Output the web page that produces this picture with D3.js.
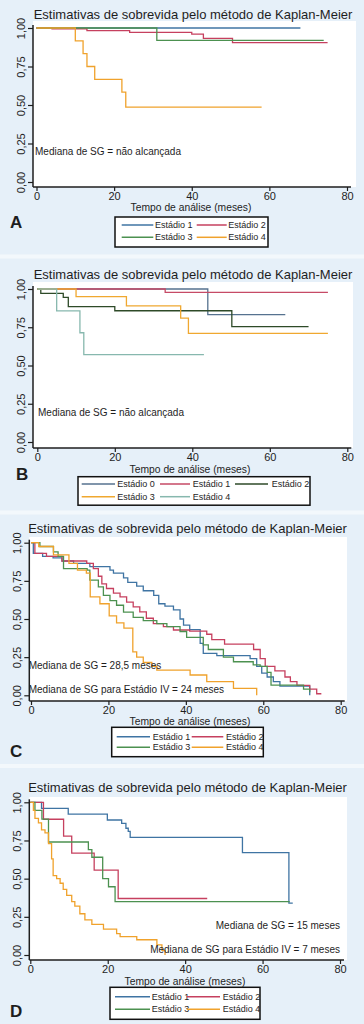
<!DOCTYPE html>
<html>
<head>
<meta charset="utf-8">
<script src="https://cdn.jsdelivr.net/npm/d3@7"></script>
<style>
  body { margin: 0; background: #e6f0f9; }
  svg { display: block; }
  text { font-family: "Liberation Sans", Arial, sans-serif; fill: #1e1e1e; }
</style>
</head>
<body>
<div id="chart"></div>
<script>
// shared axis values
var xTicks = [0, 20, 40, 60, 80];
var yTicks = [0, 0.25, 0.5, 0.75, 1];
var titleText = "Estimativas de sobrevida pelo método de Kaplan-Meier";
var xTitleText = "Tempo de análise (meses)";

// panel A
var namesA = ["Estádio 1", "Estádio 2", "Estádio 3", "Estádio 4"];
var a1 = [[0, 1], [68, 1]];
var a2 = [[0, 1], [4, 0.995], [13, 0.983], [24, 0.972], [40, 0.96], [43, 0.933], [50.5, 0.905], [75, 0.905]];
var a3 = [[0, 1], [31, 0.92], [74, 0.92]];
var a4 = [[0, 1], [10, 0.917], [12, 0.833], [13, 0.75], [15, 0.667], [22, 0.583], [23, 0.486], [58, 0.486]];
var notesA = ["Mediana de SG = não alcançada"];

// panel B
var namesB = ["Estádio 0", "Estádio 1", "Estádio 2", "Estádio 3", "Estádio 4"];
var b0 = [[0, 1], [44, 0.833], [64, 0.833]];
var b1 = [[0, 1], [33, 0.978], [75, 0.978]];
var b2 = [[0, 1], [0.9, 0.972], [6.7, 0.945], [8, 0.885], [20, 0.858], [50.2, 0.754], [70, 0.754]];
var b3 = [[0, 1], [10, 0.95], [23, 0.89], [37, 0.81], [39, 0.71], [75, 0.71]];
var b4 = [[0, 1], [5, 0.857], [11, 0.714], [12, 0.571], [43, 0.571]];
var notesB = ["Mediana de SG = não alcançada"];

// panel C
var namesC = ["Estádio 1", "Estádio 2", "Estádio 3", "Estádio 4"];
var c1 = [[0, 1], [0.6, 0.93], [3, 0.91], [5.7, 0.9], [8, 0.88], [11, 0.865], [15.2, 0.843], [20.4, 0.82], [21.3, 0.8],
  [23.9, 0.77], [25, 0.74], [27.3, 0.716], [29, 0.685], [31.7, 0.655], [33, 0.6], [34.6, 0.585], [36.8, 0.56],
  [38.5, 0.5], [39.4, 0.46], [41, 0.43], [43.7, 0.34], [44.5, 0.275], [48, 0.26], [56.6, 0.24], [58.3, 0.19],
  [59.6, 0.145], [61, 0.12], [62.6, 0.09], [64.3, 0.06], [72, 0]];
var c2 = [[0, 1], [1, 0.93], [4, 0.91], [8, 0.88], [14.4, 0.865], [16.1, 0.83], [17.4, 0.78], [18.3, 0.73], [19.5, 0.7],
  [21.3, 0.67], [23, 0.645], [24.7, 0.61], [26.4, 0.58], [28.1, 0.547], [29.8, 0.505], [31.6, 0.47], [34.2, 0.45],
  [36.8, 0.428], [41, 0.42], [45.4, 0.4], [46.7, 0.365], [50, 0.335], [57.5, 0.3], [59.2, 0.24], [60.5, 0.19],
  [63, 0.16], [65.6, 0.12], [67, 0.09], [68.7, 0.065], [72, 0.04], [73.8, 0.01], [75, 0.01]];
var c3 = [[0, 1], [2.3, 0.975], [5.8, 0.94], [7, 0.91], [8.4, 0.83], [14.5, 0.82], [15.2, 0.755], [17.4, 0.71],
  [18.7, 0.655], [20.4, 0.62], [22.1, 0.59], [23.9, 0.545], [26.4, 0.51], [29, 0.49], [32.5, 0.47], [35.1, 0.45],
  [38.5, 0.418], [40.2, 0.38], [44.5, 0.33], [45.8, 0.3], [49.7, 0.25], [52.3, 0.22], [57.4, 0.2], [59.2, 0.19],
  [61, 0.15], [62, 0.067], [70.4, 0.04], [72, 0.02]];
var c4 = [[0, 1], [2, 0.975], [5.8, 0.92], [9.8, 0.865], [12, 0.82], [14.3, 0.8], [15.3, 0.645], [17.8, 0.6],
  [20.2, 0.52], [22.1, 0.475], [24, 0.44], [26.3, 0.285], [27.3, 0.25], [29, 0.215], [31.2, 0.19], [32.5, 0.165],
  [41.1, 0.133], [45.4, 0.09], [52.3, 0.046], [58.3, 0]];
var notesC = ["Mediana de SG = 28,5 meses", "Mediana de SG para Estádio IV = 24 meses"];

// panel D
var namesD = ["Estádio 1", "Estádio 2", "Estádio 3", "Estádio 4"];
var d1 = [[0, 1], [2.9, 0.96], [9.8, 0.923], [19.9, 0.884], [23.6, 0.862], [24.7, 0.83], [25.3, 0.81], [25.8, 0.77],
  [54.8, 0.67], [66.8, 0.34], [67.8, 0.34]];
var d2 = [[0, 1], [3.4, 0.889], [8.6, 0.778], [10.7, 0.667], [16.5, 0.556], [22.7, 0.37], [45.7, 0.37]];
var d3s = [[0, 1], [1.2, 0.947], [3, 0.89], [4.7, 0.74], [15, 0.69], [15.9, 0.64], [18.7, 0.5], [20.2, 0.447],
  [21.9, 0.35], [67, 0.35]];
var d4 = [[0, 1], [0.8, 0.947], [1.2, 0.895], [2.1, 0.865], [2.9, 0.82], [3.8, 0.8], [4.7, 0.73], [5.5, 0.63],
  [5.9, 0.52], [6.8, 0.5], [7.7, 0.47], [8.5, 0.43], [9.4, 0.39], [10.7, 0.35], [11.5, 0.32], [12.8, 0.27],
  [14.1, 0.23], [15.9, 0.2], [18.9, 0.17], [22.3, 0.14], [23.2, 0.12], [27.5, 0.1], [32.7, 0.066], [34, 0.03], [34.8, 0]];
var notesD = ["Mediana de SG = 15 meses", "Mediana de SG para Estádio IV = 7 meses"];

var blue = "#3f74a3", red = "#c6405f", green = "#4c9150", orange = "#f0a22c";

var panels = [
  { letter: "A", letterX: 10, letterY: 228,
    x0: 36.5, x80: 347, y1: 28, y0: 182, axisX: 33, axisY: 187, top: 21, right: 356,
    titleY: 19, titleX: 193, xTitleY: 210.7, xTitleX: 191,
    series: [a1, a2, a3, a4], names: namesA, colors: [blue, red, green, orange],
    notes: notesA, noteX: 35, noteY: [155], noteAnchor: "start",
    legend: { x: 115, y: 217, w: 153, h: 30, cols: [[121.7, 153.3, 155], [196.7, 226.7, 228.3]], rows: [225, 237.3] } },
  { letter: "B", letterX: 16, letterY: 480,
    x0: 37.3, x80: 347.3, y1: 289, y0: 442, axisX: 33, axisY: 448, top: 282, right: 353,
    titleY: 279, titleX: 193, xTitleY: 473, xTitleX: 190,
    series: [b0, b1, b2, b3, b4], names: namesB, colors: ["#56728f", "#c64a66", "#2e4a28", "#f0a830", "#87b8ae"],
    notes: notesB, noteX: 38, noteY: [416], noteAnchor: "start",
    legend: { x: 78, y: 476.7, w: 232, h: 28.5, cols: [[81.7, 115, 117.3], [160, 190, 192.7], [235, 268, 271.7]], rows: [484, 496.7] } },
  { letter: "C", letterX: 10, letterY: 757,
    x0: 31, x80: 340.7, y1: 542.7, y0: 695.3, axisX: 29.3, axisY: 701, top: 537, right: 347,
    titleY: 532.5, titleX: 187.5, xTitleY: 725, xTitleX: 190,
    series: [c1, c2, c3, c4], names: namesC, colors: [blue, red, green, orange],
    notes: notesC, noteX: 28.7, noteY: [668.5, 693], noteAnchor: "start",
    legend: { x: 111.7, y: 727.3, w: 151.6, h: 29.4, cols: [[116.7, 150, 152.7], [191.7, 223.3, 226]], rows: [736.7, 747.3] } },
  { letter: "D", letterX: 10, letterY: 1016.7,
    x0: 30.3, x80: 340, y1: 802.3, y0: 955, axisX: 29.3, axisY: 960, top: 797, right: 347,
    titleY: 791.5, titleX: 187.5, xTitleY: 985, xTitleX: 185,
    series: [d1, d2, d3s, d4], names: namesD, colors: [blue, red, green, orange],
    notes: notesD, noteX: 340, noteY: [928.5, 952.5], noteAnchor: "end",
    legend: { x: 110, y: 987.3, w: 150, h: 32, cols: [[115, 150, 151.7], [186.7, 220, 222.7]], rows: [996.7, 1009.3] } }
];

var svg = d3.select("#chart").append("svg")
  .attr("width", 364)
  .attr("height", 1024);

svg.append("rect").attr("width", 364).attr("height", 1024).attr("fill", "#e6f0f9");

// light strips between panels
[254.5, 510.5, 764].forEach(function(y) {
  svg.append("rect").attr("x", 0).attr("y", y).attr("width", 364).attr("height", 4).attr("fill", "#f3f8fc");
});

var fmtY = function(d) { return d3.format(".2f")(d).replace(".", ","); };

panels.forEach(function(p) {
  var g = svg.append("g");
  var xs = d3.scaleLinear().domain([0, 80]).range([p.x0, p.x80]);
  var ys = d3.scaleLinear().domain([0, 1]).range([p.y0, p.y1]);

  g.append("rect")
    .attr("x", p.axisX).attr("y", p.top)
    .attr("width", p.right - p.axisX).attr("height", p.axisY - p.top)
    .attr("fill", "#fff");

  g.append("text")
    .attr("x", p.titleX).attr("y", p.titleY)
    .attr("text-anchor", "middle")
    .style("font-size", "13px")
    .text(titleText);

  // curves
  var line = d3.line()
    .x(function(d) { return xs(d[0]); })
    .y(function(d) { return ys(d[1]); })
    .curve(d3.curveStepAfter);

  p.series.forEach(function(s, i) {
    g.append("path")
      .attr("d", line(s))
      .attr("fill", "none")
      .attr("stroke", p.colors[i])
      .attr("stroke-width", 1.3);
  });

  // axes
  var yAxis = g.append("g")
    .attr("transform", "translate(" + p.axisX + ",0)")
    .call(d3.axisLeft(ys).tickValues(yTicks).tickSize(5).tickFormat(fmtY));
  yAxis.select(".domain").remove();
  yAxis.selectAll("line").attr("stroke", "#1e1e1e").attr("stroke-width", 1.2);
  yAxis.selectAll("text")
    .attr("transform", "rotate(-90)")
    .attr("x", 0).attr("y", -8).attr("dy", 0)
    .attr("text-anchor", "middle")
    .style("font-size", "11px");

  var xAxis = g.append("g")
    .attr("transform", "translate(0," + p.axisY + ")")
    .call(d3.axisBottom(xs).tickValues(xTicks).tickSize(4).tickPadding(1));
  xAxis.select(".domain").remove();
  xAxis.selectAll("line").attr("stroke", "#1e1e1e").attr("stroke-width", 1.2);
  xAxis.selectAll("text").style("font-size", "11px");

  g.append("line")
    .attr("x1", p.axisX).attr("x2", p.axisX)
    .attr("y1", p.y1 - 3).attr("y2", p.axisY)
    .attr("stroke", "#1e1e1e").attr("stroke-width", 1.5);
  g.append("line")
    .attr("x1", p.axisX).attr("x2", p.x80 + 4)
    .attr("y1", p.axisY).attr("y2", p.axisY)
    .attr("stroke", "#1e1e1e").attr("stroke-width", 1.5);

  g.append("text")
    .attr("x", p.xTitleX).attr("y", p.xTitleY)
    .attr("text-anchor", "middle")
    .style("font-size", "10.3px")
    .text(xTitleText);

  p.notes.forEach(function(t, i) {
    g.append("text")
      .attr("x", p.noteX).attr("y", p.noteY[i])
      .attr("text-anchor", p.noteAnchor)
      .style("font-size", "10px")
      .text(t);
  });

  g.append("text")
    .attr("x", p.letterX).attr("y", p.letterY)
    .style("font-family", "'Liberation Sans Narrow', 'Liberation Sans', Arial, sans-serif")
    .style("font-weight", "bold")
    .style("font-size", "17px")
    .text(p.letter);

  // legend
  var L = p.legend;
  g.append("rect")
    .attr("x", L.x).attr("y", L.y).attr("width", L.w).attr("height", L.h)
    .attr("fill", "#fff").attr("stroke", "#111").attr("stroke-width", 1.5);
  p.names.forEach(function(n, i) {
    var c = L.cols[i % L.cols.length];
    var r = L.rows[Math.floor(i / L.cols.length)];
    g.append("line")
      .attr("x1", c[0]).attr("x2", c[1]).attr("y1", r).attr("y2", r)
      .attr("stroke", p.colors[i]).attr("stroke-width", 1.5);
    g.append("text")
      .attr("x", c[2]).attr("y", r + 3)
      .style("font-family", "'Liberation Sans Narrow', 'Liberation Sans', Arial, sans-serif")
      .style("font-size", "9px")
      .text(n);
  });
});
</script>
</body>
</html>
